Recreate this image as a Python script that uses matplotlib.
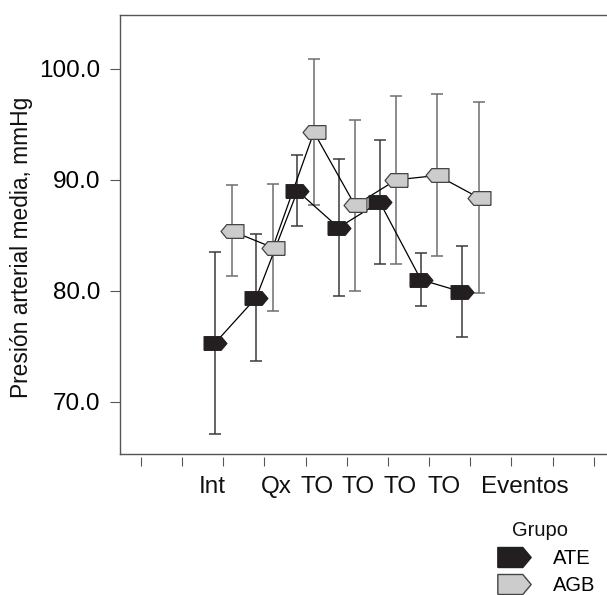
import numpy as np
import matplotlib
matplotlib.use("Agg")
import matplotlib.pyplot as plt
from matplotlib.lines import Line2D

plt.rcParams['font.family'] = ['Liberation Sans', 'DejaVu Sans']

# datos (media y desviacion por momento)
momentos = ['Int', 'Qx', 'TO', 'TO', 'TO', 'TO', 'Eventos']
pos_momentos = np.arange(2, 9)
ate_media = [75.3, 79.4, 89.0, 85.7, 88.0, 81.0, 79.9]
ate_de = [8.2, 5.7, 3.2, 6.2, 5.6, 2.4, 4.1]
agb_media = [85.4, 83.9, 94.3, 87.7, 90.0, 90.4, 88.4]
agb_de = [4.1, 5.7, 6.6, 7.7, 7.6, 7.3, 8.6]
yticks = [70.0, 80.0, 90.0, 100.0]

# posicion de las etiquetas del eje x (no coinciden con los puntos)
pos_etiquetas = [1.73, 3.28, 4.27, 5.27, 6.29, 7.36, 9.33]

# marcadores tipo "flecha" (pentagono)
flecha_der = [(-1, -0.6), (0.5, -0.6), (1, 0), (0.5, 0.6), (-1, 0.6), (-1, -0.6)]
flecha_izq = [(-x, y) for x, y in flecha_der]

fig = plt.figure(figsize=(6.07, 5.95), dpi=100)
ax = fig.add_axes([120 / 607, 1 - 454 / 595, 487 / 607, 439.5 / 595])

gris = '#555555'
x_ate = pos_momentos - 0.2
x_agb = pos_momentos + 0.2

ax.errorbar(x_ate, ate_media, yerr=ate_de, fmt='none', ecolor='#3a3a3a',
            elinewidth=1.1, capsize=4, capthick=1.1, zorder=1)
ax.errorbar(x_agb, agb_media, yerr=agb_de, fmt='none', ecolor='#6e6e6e',
            elinewidth=1.1, capsize=4, capthick=1.1, zorder=1)
ax.plot(x_ate, ate_media, color='black', linewidth=0.9, zorder=2)
ax.plot(x_agb, agb_media, color='black', linewidth=0.9, zorder=2)
ax.plot(x_ate, ate_media, linestyle='none', marker=flecha_der, markersize=16.5,
        markerfacecolor='#231f20', markeredgecolor='#231f20', markeredgewidth=0.8, zorder=3)
ax.plot(x_agb, agb_media, linestyle='none', marker=flecha_izq, markersize=16.5,
        markerfacecolor='#cccccc', markeredgecolor='#444444', markeredgewidth=0.9, zorder=3)

ax.set_xlim(-0.51, 11.32)
ax.set_ylim(65.3, 104.9)
ax.set_yticks(yticks)
ax.set_yticklabels(['{:.1f}'.format(v) for v in yticks], fontsize=17.5)
ax.tick_params(axis='y', length=7.2, width=0.8, color=gris, pad=7)
ax.set_xticks([])
for s in ax.spines.values():
    s.set_color(gris)
    s.set_linewidth(1.0)
ax.spines['right'].set_visible(False)

# ticks del eje x separados del borde
sec = ax.secondary_xaxis(-0.007)
sec.set_xticks(np.arange(0, 12))
sec.set_xticklabels([])
sec.tick_params(axis='x', length=6.5, width=0.8, color=gris)
sec.spines['bottom'].set_visible(False)

for x, et in zip(pos_etiquetas, momentos):
    ax.text(x, -0.075, et, transform=ax.get_xaxis_transform(), ha='center', va='center',
            fontsize=17.5, color='#111111')

ax.set_ylabel('Presión arterial media, mmHg', fontsize=16.4, color='#111111')
ax.yaxis.set_label_coords(-0.179, 0.471)

handles = [Line2D([], [], linestyle='none', marker=flecha_der, markersize=24,
                  markerfacecolor='#231f20', markeredgecolor='#231f20'),
           Line2D([], [], linestyle='none', marker=flecha_der, markersize=24,
                  markerfacecolor='#cccccc', markeredgecolor='#444444')]
fig.text(540 / 607, 1 - 531 / 595, 'Grupo', ha='center', va='center', fontsize=14.5,
         color='#111111')
fig.legend(handles, ['ATE', 'AGB'], loc='upper left',
           bbox_to_anchor=(497 / 607, 1 - 549 / 595), frameon=False,
           fontsize=14.5, handlelength=1.64, handletextpad=1.15,
           labelspacing=0.38, borderpad=0, borderaxespad=0)

fig.savefig('out.png', dpi=100)
